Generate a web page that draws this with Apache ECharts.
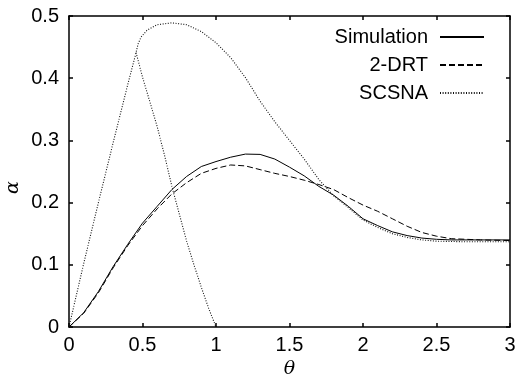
<!DOCTYPE html>
<html>
<head>
<meta charset="utf-8">
<script src="https://cdn.jsdelivr.net/npm/echarts@6/dist/echarts.min.js"></script>
<style>html,body{margin:0;padding:0;background:#fff}#c{width:515px;height:378px}</style>
</head>
<body>
<div id="c"></div>
<script>
const xTicks = [0, 0.5, 1, 1.5, 2, 2.5, 3];
const yTicks = [0, 0.1, 0.2, 0.3, 0.4, 0.5];

const simTheta = [0,0.1,0.2,0.3,0.4,0.5,0.6,0.7,0.8,0.9,1.0,1.1,1.2,1.3,1.4,1.5,1.6,1.7,1.8,1.9,2.0,2.1,2.2,2.3,2.4,2.5,2.6,2.8,3.0];
const simAlpha = [0,0.023,0.057,0.097,0.133,0.167,0.194,0.221,0.242,0.258,0.266,0.273,0.278,0.2775,0.270,0.257,0.243,0.226,0.212,0.194,0.174,0.163,0.153,0.147,0.143,0.141,0.140,0.140,0.140];

const drtTheta = [0,0.1,0.2,0.3,0.4,0.5,0.6,0.7,0.8,0.9,1.0,1.1,1.2,1.3,1.4,1.5,1.6,1.7,1.8,1.9,2.0,2.1,2.2,2.3,2.4,2.5,2.6,2.8,3.0];
const drtAlpha = [0,0.022,0.055,0.095,0.131,0.163,0.190,0.214,0.232,0.247,0.255,0.2605,0.259,0.253,0.247,0.242,0.236,0.229,0.221,0.208,0.196,0.186,0.174,0.162,0.152,0.146,0.142,0.140,0.139];

// SCSNA: rising part + upper branch
const scsnaTheta = [0,0.1,0.2,0.3,0.4,0.456,0.47,0.49,0.53,0.6,0.7,0.8,0.9,1.0,1.1,1.2,1.3,1.4,1.5,1.6,1.7,1.75,1.8,1.9,2.0,2.1,2.2,2.3,2.4,2.5,2.7,3.0];
const scsnaAlpha = [0,0.102,0.200,0.296,0.390,0.441,0.455,0.466,0.477,0.486,0.489,0.486,0.475,0.457,0.433,0.401,0.363,0.330,0.300,0.270,0.237,0.224,0.211,0.192,0.172,0.160,0.150,0.144,0.140,0.138,0.137,0.137];
// SCSNA: lower (falling) branch
const scsnaLowTheta = [0.456,0.5,0.55,0.6,0.65,0.7,0.75,0.8,0.85,0.9,0.95,1.0];
const scsnaLowAlpha = [0.441,0.402,0.362,0.322,0.276,0.226,0.182,0.138,0.100,0.064,0.030,0];

const pairs = (xs, ys) => xs.map((x, i) => [x, ys[i]]);

const chart = echarts.init(document.getElementById('c'), null, {renderer: 'canvas'});
const axisFont = {fontFamily: 'Liberation Sans', fontSize: 20, color: '#000'};
const lineCol = '#000';
const baseX = {
  type: 'value', min: 0, max: 3, interval: 0.5,
  axisLine: {show: true, onZero: false, lineStyle: {color: lineCol, width: 1.5}},
  axisTick: {show: true, inside: true, length: 4, lineStyle: {color: lineCol, width: 1.5}},
  splitLine: {show: false}
};
const baseY = {
  type: 'value', min: 0, max: 0.5, interval: 0.1,
  axisLine: {show: true, onZero: false, lineStyle: {color: lineCol, width: 1.5}},
  axisTick: {show: true, inside: true, length: 4, lineStyle: {color: lineCol, width: 1.5}},
  splitLine: {show: false}
};
const dotStyle = {color: '#111', width: 1.1, type: [1, 1.6]};
chart.setOption({
  animation: false,
  backgroundColor: '#fff',
  grid: {left: 69, right: 5, top: 16, bottom: 51, containLabel: false, outerBoundsMode: 'none'},
  legend: {
    data: ['Simulation', '2-DRT', 'SCSNA'],
    orient: 'vertical', align: 'right',
    right: 25, top: 22,
    itemWidth: 44, itemHeight: 14, itemGap: 8,
    itemStyle: {opacity: 0},
    textStyle: {fontFamily: 'Liberation Sans', fontSize: 20, color: '#000', padding: [0, 7, 0, 0]},
    selectedMode: false
  },
  xAxis: [
    Object.assign({}, baseX, {
      position: 'bottom',
      axisLabel: Object.assign({margin: 8, formatter: v => String(v)}, axisFont),
      name: 'θ', nameLocation: 'middle', nameGap: 33, nameMoveOverlap: false,
      nameTextStyle: {fontFamily: 'DejaVu Serif', fontStyle: 'italic', fontSize: 19, color: '#000'}
    }),
    Object.assign({}, baseX, {position: 'top', axisLabel: {show: false}})
  ],
  yAxis: [
    Object.assign({}, baseY, {
      position: 'left',
      axisLabel: Object.assign({margin: 10, formatter: v => String(v)}, axisFont),
      name: 'α', nameLocation: 'middle', nameGap: 46, nameRotate: 90, nameMoveOverlap: false,
      nameTextStyle: {fontFamily: 'DejaVu Serif', fontStyle: 'italic', fontSize: 19, color: '#000', padding: [0, 32, 0, 0]}
    }),
    Object.assign({}, baseY, {position: 'right', axisLabel: {show: false}})
  ],
  series: [
    {name: 'Simulation', type: 'line', data: pairs(simTheta, simAlpha), symbol: 'none',
     lineStyle: {color: '#000', width: 1, type: 'solid'}, itemStyle: {color: '#000'}},
    {name: '2-DRT', type: 'line', data: pairs(drtTheta, drtAlpha), symbol: 'none',
     lineStyle: {color: '#000', width: 1, type: [6, 3]}, itemStyle: {color: '#000'}},
    {name: 'SCSNA', type: 'line', data: pairs(scsnaTheta, scsnaAlpha), symbol: 'none',
     lineStyle: dotStyle, itemStyle: {color: '#111'}},
    {name: 'SCSNA', type: 'line', data: pairs(scsnaLowTheta, scsnaLowAlpha), symbol: 'none',
     lineStyle: dotStyle, itemStyle: {color: '#111'}}
  ]
});
</script>
</body>
</html>
